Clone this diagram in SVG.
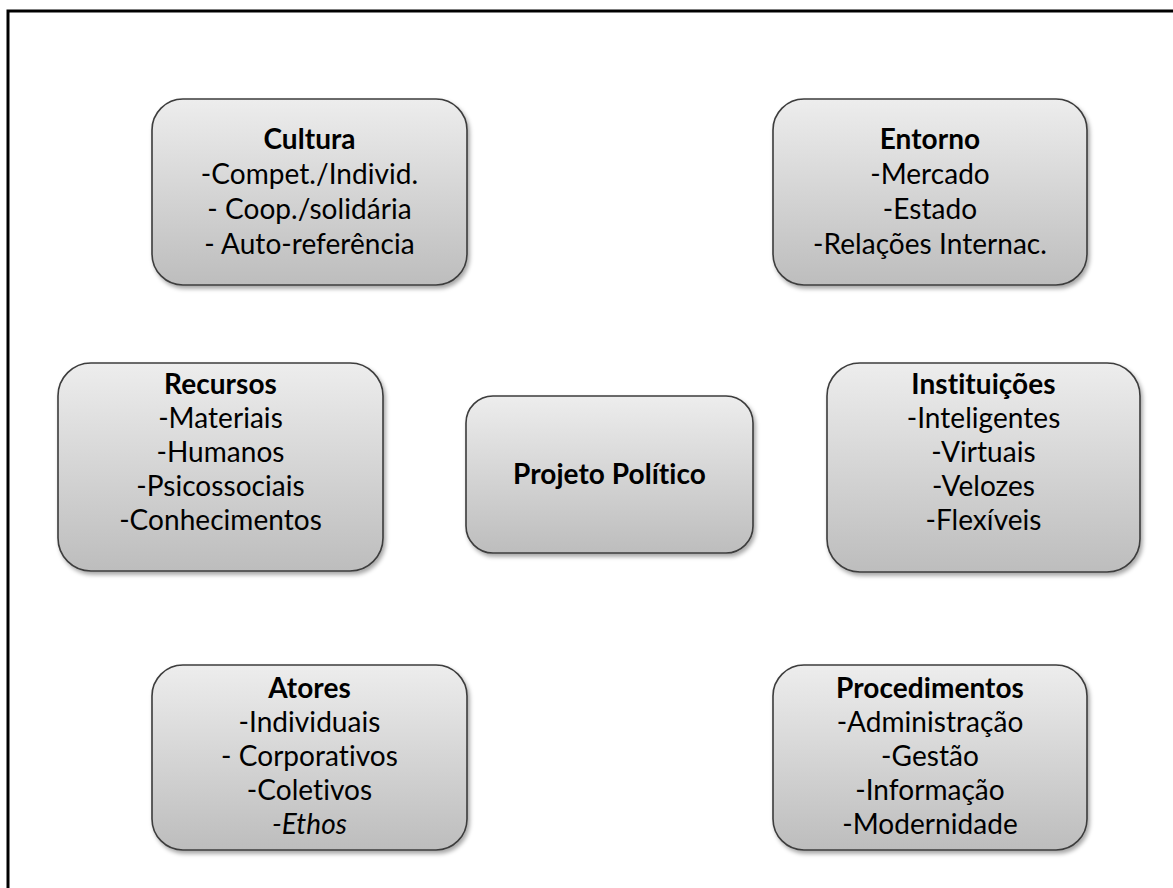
<svg xmlns="http://www.w3.org/2000/svg" width="1173" height="888" viewBox="0 0 1173 888">
  <defs>
    <linearGradient id="boxFill" x1="0" y1="0" x2="0" y2="1">
      <stop offset="0" stop-color="#ededed"/>
      <stop offset="1" stop-color="#bdbdbd"/>
    </linearGradient>
    <filter id="shadow" x="-10%" y="-10%" width="130%" height="130%">
      <feDropShadow dx="2" dy="3" stdDeviation="2" flood-color="#000" flood-opacity="0.35"/>
    </filter>
    <style>
      .box { fill: url(#boxFill); stroke: #3c3c3c; stroke-width: 1.6; filter: url(#shadow); }
      .frame { fill: none; stroke: #000; stroke-width: 3; }
      text { font-family: Lato, "Open Sans", sans-serif; font-size: 28px; fill: #000; text-anchor: middle;
             font-variant-ligatures: none; font-feature-settings: "liga" 0, "clig" 0, "dlig" 0;
             letter-spacing: 0.05px; }
      .title { font-weight: bold; }
      .it { font-style: italic; }
    </style>
  </defs>

  <rect width="1173" height="888" fill="#fff"/>

  <!-- outer frame: open to the right and bottom -->
  <path class="frame" d="M8,888 V11 H1173"/>

  <!-- no connectors in this layout -->
  <g id="connectors"/>

  <g id="cultura">
    <rect class="box" x="152" y="99" width="315" height="186" rx="31"/>
    <text x="309.5" y="149" class="title">Cultura</text>
    <text x="309.5" y="184">-Compet./Individ.</text>
    <text x="309.5" y="219">- Coop./solidária</text>
    <text x="309.5" y="254">- Auto-referência</text>
  </g>

  <g id="entorno">
    <rect class="box" x="773" y="99" width="314" height="186" rx="31"/>
    <text x="930" y="149" class="title">Entorno</text>
    <text x="930" y="184">-Mercado</text>
    <text x="930" y="219">-Estado</text>
    <text x="930" y="254">-Relações Internac.</text>
  </g>

  <g id="recursos">
    <rect class="box" x="58" y="363" width="325" height="208" rx="33"/>
    <text x="220.5" y="394" class="title">Recursos</text>
    <text x="220.5" y="428">-Materiais</text>
    <text x="220.5" y="462">-Humanos</text>
    <text x="220.5" y="496">-Psicossociais</text>
    <text x="220.5" y="530">-Conhecimentos</text>
  </g>

  <g id="projeto">
    <rect class="box" x="466" y="396" width="287" height="157" rx="27"/>
    <text x="609.5" y="484" class="title">Projeto Político</text>
  </g>

  <g id="instituicoes">
    <rect class="box" x="827" y="363" width="313" height="209" rx="33"/>
    <text x="983.5" y="394" class="title">Instituições</text>
    <text x="983.5" y="428">-Inteligentes</text>
    <text x="983.5" y="462">-Virtuais</text>
    <text x="983.5" y="496">-Velozes</text>
    <text x="983.5" y="530">-Flexíveis</text>
  </g>

  <g id="atores">
    <rect class="box" x="152" y="665" width="315" height="185" rx="31"/>
    <text x="309.5" y="698" class="title">Atores</text>
    <text x="309.5" y="732">-Individuais</text>
    <text x="309.5" y="766">- Corporativos</text>
    <text x="309.5" y="800">-Coletivos</text>
    <text x="309.5" y="834" class="it">-Ethos</text>
  </g>

  <g id="procedimentos">
    <rect class="box" x="773" y="665" width="314" height="185" rx="31"/>
    <text x="930" y="698" class="title">Procedimentos</text>
    <text x="930" y="732">-Administração</text>
    <text x="930" y="766">-Gestão</text>
    <text x="930" y="800">-Informação</text>
    <text x="930" y="834">-Modernidade</text>
  </g>
</svg>
